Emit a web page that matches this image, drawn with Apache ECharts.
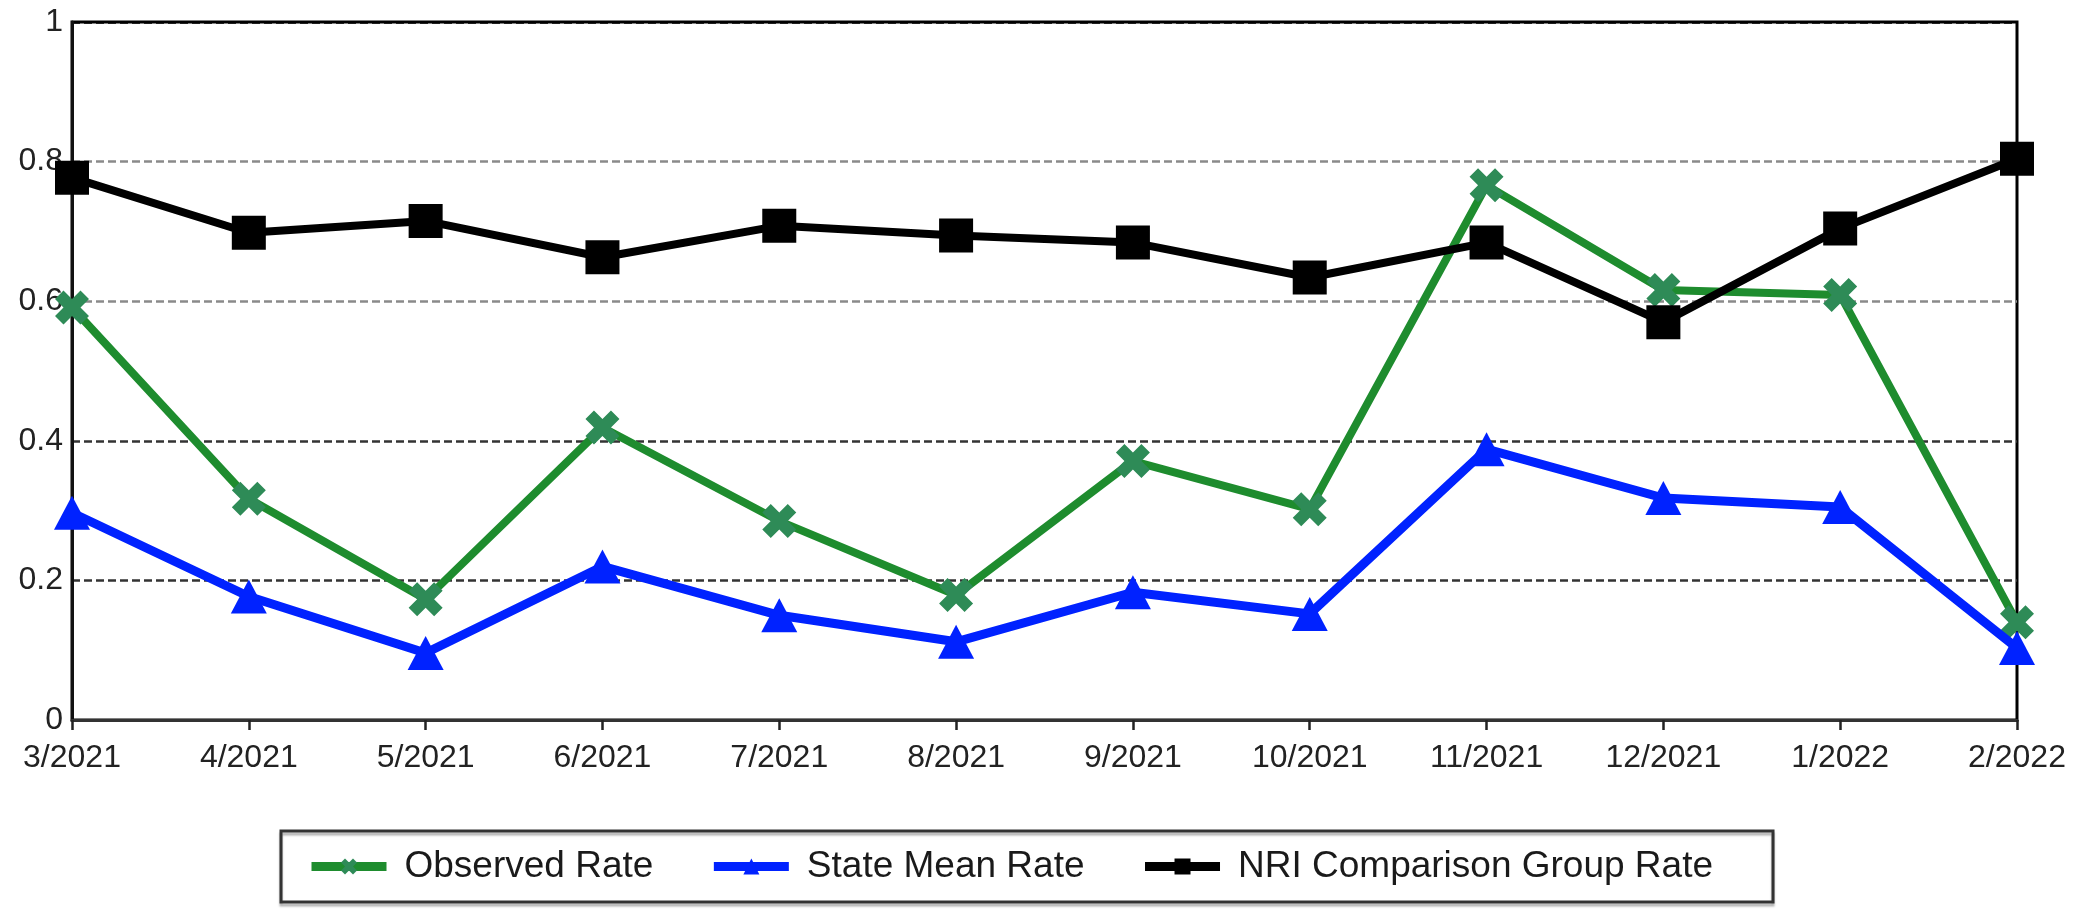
<!DOCTYPE html>
<html>
<head>
<meta charset="utf-8">
<script src="https://cdn.jsdelivr.net/npm/echarts@6/dist/echarts.min.js"></script>
<style>
html,body{margin:0;padding:0;background:#fff;}
#chart{width:2080px;height:910px;}
</style>
</head>
<body>
<div id="chart"></div>
<script>
const categories = ['3/2021','4/2021','5/2021','6/2021','7/2021','8/2021','9/2021','10/2021','11/2021','12/2021','1/2022','2/2022'];
const observedRate = [0.591, 0.317, 0.173, 0.419, 0.285, 0.179, 0.371, 0.302, 0.766, 0.616, 0.609, 0.140];
const stateMeanRate = [0.297, 0.177, 0.096, 0.220, 0.150, 0.112, 0.183, 0.152, 0.388, 0.318, 0.305, 0.103];
const nriRate = [0.777, 0.698, 0.715, 0.663, 0.708, 0.694, 0.684, 0.634, 0.684, 0.570, 0.704, 0.804];
const yTicks = { min: 0, max: 1, interval: 0.2 };

const FONT = '"Liberation Sans", Arial, sans-serif';
const xPath = 'path://M25,0 L50,25 L75,0 L100,25 L75,50 L100,75 L75,100 L50,75 L25,100 L0,75 L25,50 L0,25 Z';

const chart = echarts.init(document.getElementById('chart'), null, {renderer: 'canvas'});
chart.setOption({
  backgroundColor: '#ffffff',
  animation: false,
  textStyle: { fontFamily: FONT },
  grid: {
    left: 72, right: 63, top: 22, bottom: 190,
    show: true, borderColor: '#000', borderWidth: 3, backgroundColor: 'transparent'
  },
  legend: {
    left: 281, top: 831,
    padding: [17, 60, 17, 26],
    itemGap: 56,
    itemWidth: 75, itemHeight: 20,
    lineStyle: { width: 9 },
    borderColor: '#333', borderWidth: 3,
    shadowColor: 'rgba(0,0,0,0.3)', shadowOffsetX: 0, shadowOffsetY: 3, shadowBlur: 2,
    textStyle: { fontFamily: FONT, fontSize: 37, color: '#1a1a1a', padding: [0, 0, 0, 13] },
    data: ['Observed Rate', 'State Mean Rate', 'NRI Comparison Group Rate']
  },
  xAxis: {
    type: 'category',
    data: categories,
    boundaryGap: false,
    axisLine: { show: true, lineStyle: { color: '#333', width: 3 } },
    axisTick: { show: true, length: 10, lineStyle: { color: '#222', width: 2.5 } },
    axisLabel: { fontFamily: FONT, fontSize: 32, color: '#222', margin: 22 },
    splitLine: { show: false }
  },
  yAxis: {
    type: 'value',
    min: yTicks.min, max: yTicks.max, interval: yTicks.interval,
    axisLine: { show: true, lineStyle: { color: '#111', width: 3 } },
    axisTick: { show: false },
    axisLabel: { fontFamily: FONT, fontSize: 32, color: '#222', margin: 9 },
    splitLine: {
      show: true,
      lineStyle: { color: ['#333', '#333', '#333', '#8a8a8a', '#8a8a8a', '#000'], type: [8, 4], width: 2.5 }
    }
  },
  series: [
    {
      name: 'Observed Rate', type: 'line', data: observedRate,
      symbol: xPath, symbolSize: 34,
      lineStyle: { color: '#1E8C2E', width: 8 },
      itemStyle: { color: '#2E8B57' },
      z: 2
    },
    {
      name: 'State Mean Rate', type: 'line', data: stateMeanRate,
      symbol: 'triangle', symbolSize: [36, 34],
      lineStyle: { color: '#0022FF', width: 9 },
      itemStyle: { color: '#0022FF' },
      z: 3
    },
    {
      name: 'NRI Comparison Group Rate', type: 'line', data: nriRate,
      symbol: 'rect', symbolSize: 34,
      lineStyle: { color: '#000', width: 8 },
      itemStyle: { color: '#000' },
      z: 4
    }
  ]
});
</script>
</body>
</html>
